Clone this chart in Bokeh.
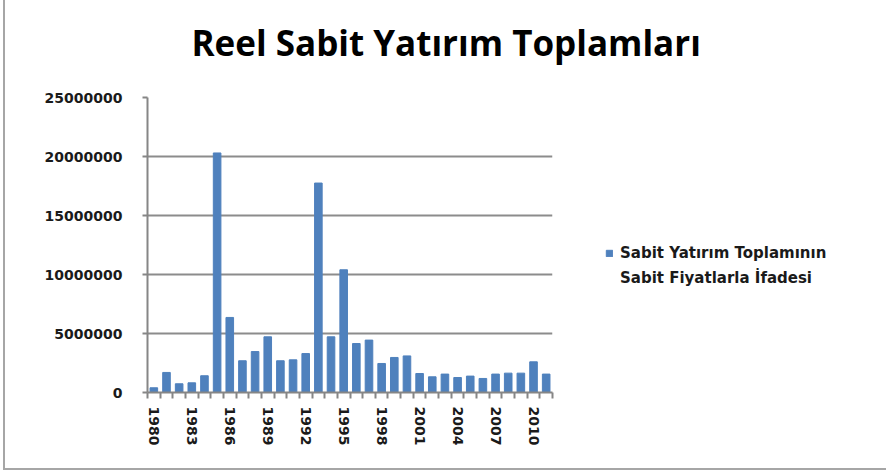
from bokeh.plotting import figure
from bokeh.models import (Range1d, FixedTicker, NumeralTickFormatter, Legend, LegendItem, Title)
from bokeh.embed import file_html
from bokeh.resources import INLINE

years = list(range(1980, 2012))
values = [400000, 1700000, 740000, 820000, 1420000, 20300000, 6360000, 2690000,
          3470000, 4720000, 2690000, 2770000, 3300000, 17750000, 4720000, 10400000,
          4150000, 4440000, 2460000, 2970000, 3100000, 1610000, 1330000, 1560000,
          1270000, 1390000, 1190000, 1560000, 1640000, 1640000, 2600000, 1560000]
label_years = [1980, 1983, 1986, 1989, 1992, 1995, 1998, 2001, 2004, 2007, 2010]
y_ticks = [0, 5000000, 10000000, 15000000, 20000000, 25000000]
title_text = "Reel Sabit Yatırım Toplamları"
series_name_1 = "Sabit Yatırım Toplamının"
series_name_2 = "Sabit Fiyatlarla İfadesi"

W, H = 880, 468
FL, FT, FW, FH = 142, 97, 405, 295
p = figure(frame_width=FW, frame_height=FH, output_backend="svg", toolbar_location=None,
           x_range=Range1d(years[0] - 0.5, years[-1] + 0.5),
           y_range=Range1d(0, 25000000),
           min_border_left=FL, min_border_right=W - FL - FW,
           min_border_top=FT, min_border_bottom=H - FT - FH)
p.styles = {"margin-left": "3px", "border-left": "2px solid #a6a6a6",
            "border-bottom": "2px solid #a6a6a6"}
p.outline_line_color = None
p.background_fill_color = "white"
p.border_fill_color = "white"

r = p.vbar(x=years, top=values, width=0.6, color="#4F81BD")
# continuation line of the legend label (no visible glyph)
r2 = p.vbar(x=[], top=[], width=0.6, fill_alpha=0, line_alpha=0)

# main title
p.title.text = title_text
p.title.text_font = "Open Sans"
p.title.text_font_style = "bold"
p.title.text_font_size = "35px"
p.title.text_color = "#000000"
p.title.align = "left"
p.title.offset = 44
p.title.standoff = 0
p.title.vertical_align = "top"

# spacer between title and frame
spacer = Title(text=" ", text_font_size="10px", standoff=17)
p.add_layout(spacer, "above")

# axes
p.xaxis.ticker = FixedTicker(ticks=label_years,
                             minor_ticks=[y - 0.5 for y in years] + [years[-1] + 0.5])
p.xaxis.major_tick_out = 0
p.xaxis.major_tick_in = 0
p.xaxis.minor_tick_out = 6
p.xaxis.minor_tick_in = 0
p.xaxis.minor_tick_line_color = "#868686"
p.xaxis.minor_tick_line_width = 2
p.xaxis.major_label_orientation = "vertical"
p.xaxis.major_label_standoff = 8
p.xaxis.axis_line_color = "#868686"
p.xaxis.axis_line_width = 2

p.yaxis.ticker = FixedTicker(ticks=y_ticks)
p.yaxis.formatter = NumeralTickFormatter(format="0")
p.yaxis.major_tick_out = 5
p.yaxis.major_tick_in = 0
p.yaxis.minor_tick_line_color = None
p.yaxis.major_tick_line_color = "#868686"
p.yaxis.major_tick_line_width = 2
p.yaxis.axis_line_color = "#868686"
p.yaxis.axis_line_width = 2
p.yaxis.major_label_standoff = 20

for ax in (p.xaxis, p.yaxis):
    ax.major_label_text_font = "DejaVu Sans"
    ax.major_label_text_font_style = "bold"
    ax.major_label_text_font_size = "14px"
    ax.major_label_text_color = "#1a1a1a"

p.xgrid.grid_line_color = None
p.ygrid.grid_line_color = "#8c8c8c"
p.ygrid.grid_line_width = 2

legend = Legend(items=[LegendItem(label=series_name_1, renderers=[r]),
                       LegendItem(label=series_name_2, renderers=[r2])],
                location=(53, 105), orientation="vertical",
                padding=0, margin=0, border_line_color=None, background_fill_alpha=0,
                glyph_width=8, glyph_height=8, label_standoff=7,
                label_height=15, spacing=7,
                label_text_font="DejaVu Sans", label_text_font_style="bold",
                label_text_font_size="15px", label_text_color="#1a1a1a")
p.add_layout(legend, "right")

open("out.html", "w").write(file_html(p, INLINE))
